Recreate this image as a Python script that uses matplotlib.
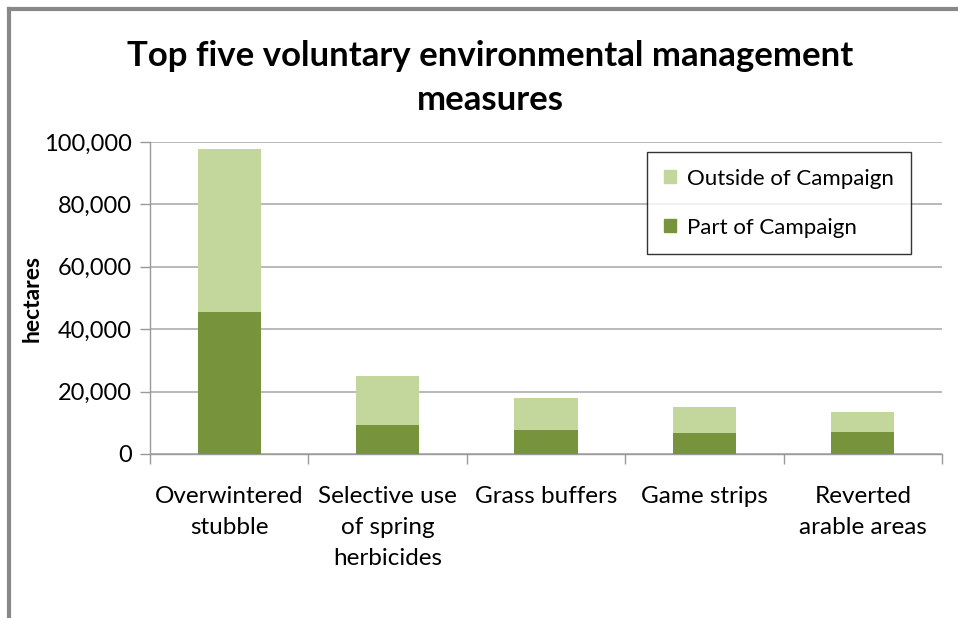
import matplotlib
matplotlib.use("Agg")
import matplotlib.pyplot as plt
from matplotlib.ticker import FuncFormatter
from matplotlib.patches import Rectangle
from matplotlib.lines import Line2D

categories = ["Overwintered\nstubble", "Selective use\nof spring\nherbicides",
              "Grass buffers", "Game strips", "Reverted\narable areas"]
part_of_campaign = [45500, 9400, 7700, 6600, 7000]
outside_of_campaign = [52300, 15600, 10300, 8600, 6500]
yticks = [0, 20000, 40000, 60000, 80000, 100000]

dark = "#77933C"
light = "#C3D69B"
plt.rcParams['font.family'] = ['Lato', 'DejaVu Sans']

fig = plt.figure(figsize=(9.58, 6.18), dpi=100)
ax = fig.add_axes([150/958, 1-454/618, (942-150)/958, (454-142)/618])

x = list(range(len(categories)))
ax.bar(x, part_of_campaign, width=0.40, color=dark, label="Part of Campaign", zorder=3)
ax.bar(x, outside_of_campaign, width=0.40, bottom=part_of_campaign, color=light,
       label="Outside of Campaign", zorder=3)

ax.set_xlim(-0.5, len(categories)-0.5)
ax.set_ylim(0, 100000)
ax.set_yticks(yticks)
ax.yaxis.set_major_formatter(FuncFormatter(lambda v, p: f"{int(v):,}"))
ax.grid(axis='y', color='#b3b3b3', linewidth=1.3, zorder=0)
ax.set_xticks(x)
ax.set_xticklabels(categories, fontsize=17.5, linespacing=1.58)
ax.set_xticks([i + 0.5 for i in range(-1, len(categories))], minor=True)
ax.tick_params(axis='x', which='major', length=0, pad=23)
ax.tick_params(axis='x', which='minor', length=7, color='#999999', width=1)
ax.tick_params(axis='y', length=7, color='#999999', width=1, labelsize=17, pad=6)
for s in ['top', 'right']:
    ax.spines[s].set_visible(False)
for s in ['left', 'bottom']:
    ax.spines[s].set_color('#999999')
    ax.spines[s].set_linewidth(1)
ax.set_ylabel("hectares", fontsize=16.5, fontweight='bold')
ax.yaxis.set_label_coords((43-150)/792, 0.5)

fig.text(490/958, 1-56/618, "Top five voluntary environmental management",
         ha='center', va='center', fontsize=25, fontweight='bold')
fig.text(490/958, 1-100/618, "measures",
         ha='center', va='center', fontsize=25, fontweight='bold')

handles = [Rectangle((0, 0), 1, 1, color=light), Rectangle((0, 0), 1, 1, color=dark)]
leg = ax.legend(handles, ["Outside of Campaign", "Part of Campaign"],
                loc='upper left', bbox_to_anchor=((647-150)/792, 1-(152-142)/312),
                fontsize=16, frameon=True, fancybox=False, handlelength=0.55,
                handleheight=0.55, handletextpad=0.5, labelspacing=1.3,
                borderpad=0.75, borderaxespad=0)
leg.get_frame().set_edgecolor('black')
leg.get_frame().set_linewidth(1)

fig.add_artist(Line2D([9/958, 9/958], [0, 1-9/618], color='#888888', linewidth=3,
                      transform=fig.transFigure))
fig.add_artist(Line2D([9/958, 1], [1-9/618, 1-9/618], color='#888888', linewidth=3,
                      transform=fig.transFigure))

fig.savefig("out.png", dpi=100)
